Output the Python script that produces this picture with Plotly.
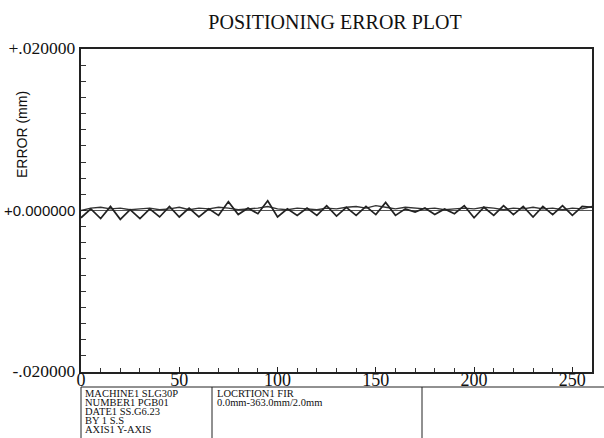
import plotly.graph_objects as go

# ---- data ----
positions = [0, 5, 10, 15, 20, 25, 30, 35, 40, 45, 50, 55, 60, 65, 70, 75, 80, 85, 90, 95,
             100, 105, 110, 115, 120, 125, 130, 135, 140, 145, 150, 155, 160, 165, 170, 175,
             180, 185, 190, 195, 200, 205, 210, 215, 220, 225, 230, 235, 240, 245, 250, 255, 260]
error_run1 = [-0.0009, 0.0002, -0.0010, 0.0005, -0.0011, 0.0001, -0.0010, 0.0002, -0.0008, 0.0005,
              -0.0008, 0.0003, -0.0008, 0.0002, -0.0006, 0.0011, -0.0005, 0.0003, -0.0004, 0.0012,
              -0.0008, 0.0002, -0.0006, 0.0003, -0.0006, 0.0006, -0.0007, 0.0004, -0.0006, 0.0005,
              -0.0005, 0.0010, -0.0006, 0.0002, -0.0002, 0.0003, -0.0005, 0.0002, -0.0004, 0.0006,
              -0.0009, 0.0004, -0.0006, 0.0006, -0.0005, 0.0005, -0.0008, 0.0005, -0.0005, 0.0006,
              -0.0006, 0.0005, 0.0004]
error_run2 = [0.0000, 0.0003, 0.0004, 0.0002, 0.0003, 0.0001, 0.0002, 0.0003, 0.0001, 0.0002,
              0.0004, 0.0001, 0.0003, 0.0002, 0.0004, 0.0003, 0.0001, 0.0002, 0.0003, 0.0005,
              0.0002, 0.0001, 0.0003, 0.0002, 0.0001, 0.0003, 0.0002, 0.0004, 0.0005, 0.0003,
              0.0006, 0.0004, 0.0002, 0.0004, 0.0003, 0.0002, 0.0003, 0.0001, 0.0002, 0.0003,
              0.0002, 0.0004, 0.0003, 0.0001, 0.0003, 0.0002, 0.0004, 0.0002, 0.0003, 0.0001,
              0.0003, 0.0002, 0.0005]
x_ticks = [0, 50, 100, 150, 200, 250]
y_ticks = [-0.02, 0.0, 0.02]
y_ticktext = ['<span style="font-family:Liberation Serif;font-size:17.5px">-.020000</span>',
              '+0.000000',
              '<span style="font-family:Liberation Serif;font-size:17.5px">+.020000</span>']
info_left = ["MACHINE1 SLG30P", "NUMBER1 PGB01", "DATE1 SS.G6.23", "BY 1 S.S", "AXIS1 Y-AXIS"]
info_mid = ["LOCRTION1 FIR", "0.0mm-363.0mm/2.0mm"]

W, H = 604, 438
L, R, T, B = 81, 12, 49, 66
ph = H - T - B
pw = W - L - R

def py(p):  # pixel y -> paper y
    return (H - B - p) / ph

def px(p):  # pixel x -> paper x
    return (p - L) / pw

fig = go.Figure()
fig.add_trace(go.Scatter(x=positions, y=error_run2, mode="lines",
                         line=dict(color="#333333", width=1.4), showlegend=False))
fig.add_trace(go.Scatter(x=positions, y=error_run1, mode="lines",
                         line=dict(color="#222222", width=1.7), showlegend=False))

fig.update_layout(
    width=W, height=H,
    margin=dict(l=L, r=R, t=T, b=B, autoexpand=False),
    paper_bgcolor="white", plot_bgcolor="white",
    showlegend=False,
    title=dict(text="POSITIONING ERROR PLOT", x=335 / W, xanchor="center",
               xref="container", y=1 - 22 / H, yanchor="middle", yref="container",
               font=dict(family="Liberation Serif", size=20, color="#111")),
)
fig.update_xaxes(range=[0, 260], tickvals=x_ticks, ticks="inside", ticklen=5,
                 tickcolor="#222", showgrid=False, zeroline=False, automargin=False,
                 showline=True, linecolor="#222", linewidth=1.5, mirror=True,
                 ticklabelstandoff=-9,
                 tickfont=dict(family="Liberation Serif", size=18, color="#111"),
                 minor=dict(dtick=10, ticks="inside", ticklen=4, tickcolor="#333"))
fig.update_yaxes(range=[-0.02, 0.02], tickvals=y_ticks, ticktext=y_ticktext,
                 ticks="inside", ticklen=5, tickcolor="#222", showgrid=False,
                 zeroline=True, zerolinecolor="#555", zerolinewidth=1, automargin=False,
                 showline=True, linecolor="#222", linewidth=1.5, mirror=True,
                 tickfont=dict(family="Liberation Sans", size=15, color="#111"),
                 ticklabelstandoff=1,
                 minor=dict(dtick=0.002, ticks="inside", ticklen=5, tickcolor="#333"))

# y-axis title (offset upward like the original)
fig.add_annotation(text="ERROR (mm)", xref="paper", yref="paper", x=px(22), y=py(135),
                   xanchor="center", yanchor="middle",
                   textangle=-90, showarrow=False,
                   font=dict(family="Liberation Sans", size=14, color="#111"))

# info table below the plot
line = dict(color="#222", width=1)
fig.add_shape(type="line", xref="paper", yref="paper", x0=px(81), x1=px(604),
              y0=py(387), y1=py(387), line=line)
for xv in (81, 212, 422):
    fig.add_shape(type="line", xref="paper", yref="paper", x0=px(xv), x1=px(xv),
                  y0=py(387), y1=py(438), line=line)
for i, t in enumerate(info_left):
    fig.add_annotation(text=t, xref="paper", yref="paper", x=px(83), y=py(393 + 9 * i),
                       xanchor="left", yanchor="middle", showarrow=False,
                       font=dict(family="Liberation Serif", size=10.5, color="#111"))
for i, t in enumerate(info_mid):
    fig.add_annotation(text=t, xref="paper", yref="paper", x=px(215), y=py(393 + 9 * i),
                       xanchor="left", yanchor="middle", showarrow=False,
                       font=dict(family="Liberation Serif", size=10.5, color="#111"))

fig.write_html("out.html", config={"displayModeBar": False},
               post_script="document.body.style.margin='0px';document.body.style.overflow='hidden';")
